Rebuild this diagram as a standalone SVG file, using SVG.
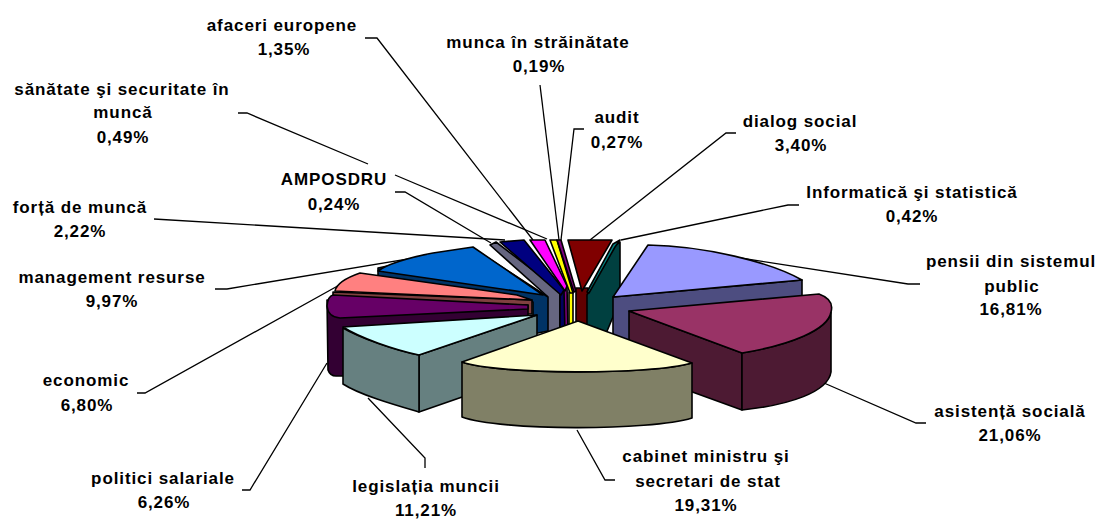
<svg xmlns="http://www.w3.org/2000/svg" width="1101" height="519" viewBox="0 0 1101 519">
<style>
.s{stroke:#000;stroke-width:1.6;stroke-linejoin:round}
.t{font-family:"Liberation Sans",Arial,sans-serif;font-weight:bold;font-size:17px;letter-spacing:0.9px;fill:#000;text-anchor:middle}
.c{fill:none;stroke:#000;stroke-width:1.3}
</style>
<rect width="1101" height="519" fill="#fff"/>
<g id="connectors">
<path class="c" d="M365,38 L377,38 L533,240"/>
<path class="c" d="M540,85 L559,240"/>
<path class="c" d="M238,113 L247,113 L368,164"/>
<path class="c" d="M395,175 L547,239"/>
<path class="c" d="M395,192 L405,192 L491,243"/>
<path class="c" d="M154,219 L505,240"/>
<path class="c" d="M584,129 L574,129 L561,240"/>
<path class="c" d="M736,133 L726,133 L590,240"/>
<path class="c" d="M799,205 L788,205 L621,240"/>
<path class="c" d="M920,284 L908,284 L740,258"/>
<path class="c" d="M926,423 L916,423 L824,383"/>
<path class="c" d="M615,480 L605,480 L577,430"/>
<path class="c" d="M425,468 L425,458 L368,398"/>
<path class="c" d="M242,490 L250,490 L327,363"/>
<path class="c" d="M137,393 L145,393 L343,283"/>
<path class="c" d="M215,289 L227,289 L450,252"/>
</g>
<g id="forta-de-munca">
<path class="s" fill="#666680" d="M490,245 L496,242 L560,291 L560,334 L547,334 L547,296 Z"/>
</g>
<g id="amposdru">
<path class="s" fill="#000060" d="M560,292 L565,290 L565,334 L560,334 Z"/>
<path class="s" fill="#000080" d="M500,242 L524,240 L564,290 L561,295 Z"/>
</g>
<g id="sanatate">
<path class="s" fill="#800080" d="M564,290 L567,286 L568,334 L565,334 Z"/>
<path class="s" fill="#FF00FF" d="M530,240 L545,240 L567,286 L565,291 Z"/>
</g>
<g id="afaceri-europene">
<path class="s" fill="#FFFF00" d="M569,292 L573,292 L573,334 L569,334 Z"/>
<path class="s" fill="#FFFF00" d="M550,240 L557,240 L573,293 L570,293 Z"/>
</g>
<g id="audit">
<path class="s" fill="#800080" d="M557,240 L561,240 L576,291 L574,292 Z"/>
</g>
<g id="dialog-social">
<path class="s" fill="#600000" d="M576,288 L588,288 L588,334 L576,334 Z"/>
<path class="s" fill="#800000" d="M568,240 L612,240 L582,291 Z"/>
</g>
<g id="informatica">
<path class="s" fill="#004040" d="M587,295 L613,247 L620,242 L620,300 L605,336 L587,336 Z"/>
<path class="s" fill="#008080" d="M587,292 L613,244 L620,240 L615,247 L589,293 Z"/>
</g>
<g id="management-resurse">
<path class="s" fill="#003366" d="M378,268 L378,277 L533,302 L533,334 L548,331 L548,297 L473,248 Z"/>
<path class="s" fill="#0066CC" d="M378,271 Q392,261 433,253 L473,247 L543,295 Z"/>
</g>
<g id="economic">
<path class="s" fill="#804040" d="M333,292 L532,300 L532,314 L528,314 L333,298 Z"/>
<path class="s" fill="#FF8080" d="M335,291 Q337,281 360,273 L517,295 L532,300 Z"/>
</g>
<g id="politici-salariale">
<path class="s" fill="#330033" d="M327,300 L328,370 Q330,376 336,376 L345,376 L345,328 L528,316 L528,305 Z"/>
<path class="s" fill="#660066" d="M333,295 L528,305 L528,309 L340,318 Q328,317 327,306 Q328,296 333,295 Z"/>
</g>
<g id="pensii">
<path class="s" fill="#4D4D80" d="M613,297 L802,280 L802,340 L613,356 Z"/>
<path class="s" fill="#9999FF" d="M613,297 L648,245 C705,246 770,262 802,280 Z"/>
</g>
<g id="legislatia-muncii">
<path class="s" fill="#668080" d="M419,355 L537,315 L537,371 L419,412 Z"/>
<path class="s" fill="#668080" d="M343,328 C360,338 395,350 419,355 L419,412 C395,405 360,395 343,384 Z"/>
<path class="s" fill="#CCFFFF" d="M343,327 L537,315 L419,355 C395,350 360,338 343,327 Z"/>
</g>
<g id="asistenta-sociala">
<path class="s" fill="#4D1A33" d="M629,311 L742,353 L742,410 L629,369 Z"/>
<path class="s" fill="#4D1A33" d="M742,353 C790,345 828,330 831,312 L831,372 C828,392 790,405 742,410 Z"/>
<path class="s" fill="#993366" d="M629,311 L819,294 C830,298 833,305 831,312 C828,330 790,345 742,353 Z"/>
</g>
<g id="cabinet-ministru">
<path class="s" fill="#808066" d="M462,362 C500,375 650,375 692,363 L692,418 C650,431 500,431 462,417 Z"/>
<path class="s" fill="#FFFFCC" d="M578,321 L462,362 C500,375 650,375 692,363 Z"/>
</g>
<g id="labels">
<text class="t" x="282" y="31">afaceri europene</text>
<text class="t" x="284" y="55">1,35%</text>
<text class="t" x="538" y="48">munca în străinătate</text>
<text class="t" x="539" y="72">0,19%</text>
<text class="t" x="122" y="95">sănătate şi securitate în</text>
<text class="t" x="123" y="118">muncă</text>
<text class="t" x="123" y="143">0,49%</text>
<text class="t" x="334" y="185">AMPOSDRU</text>
<text class="t" x="334" y="210">0,24%</text>
<text class="t" x="80" y="213">forță de muncă</text>
<text class="t" x="80" y="237">2,22%</text>
<text class="t" x="617" y="123">audit</text>
<text class="t" x="617" y="148">0,27%</text>
<text class="t" x="800" y="127">dialog social</text>
<text class="t" x="801" y="151">3,40%</text>
<text class="t" x="912" y="198">Informatică şi statistică</text>
<text class="t" x="912" y="222">0,42%</text>
<text class="t" x="1011" y="267">pensii din sistemul</text>
<text class="t" x="1012" y="292">public</text>
<text class="t" x="1011" y="315">16,81%</text>
<text class="t" x="112" y="283">management resurse</text>
<text class="t" x="112" y="307">9,97%</text>
<text class="t" x="86" y="386">economic</text>
<text class="t" x="87" y="411">6,80%</text>
<text class="t" x="163" y="484">politici salariale</text>
<text class="t" x="164" y="508">6,26%</text>
<text class="t" x="426" y="492">legislația muncii</text>
<text class="t" x="426" y="516">11,21%</text>
<text class="t" x="706" y="462">cabinet ministru şi</text>
<text class="t" x="708" y="487">secretari de stat</text>
<text class="t" x="706" y="511">19,31%</text>
<text class="t" x="1010" y="417">asistență socială</text>
<text class="t" x="1010" y="441">21,06%</text>
</g>
</svg>
